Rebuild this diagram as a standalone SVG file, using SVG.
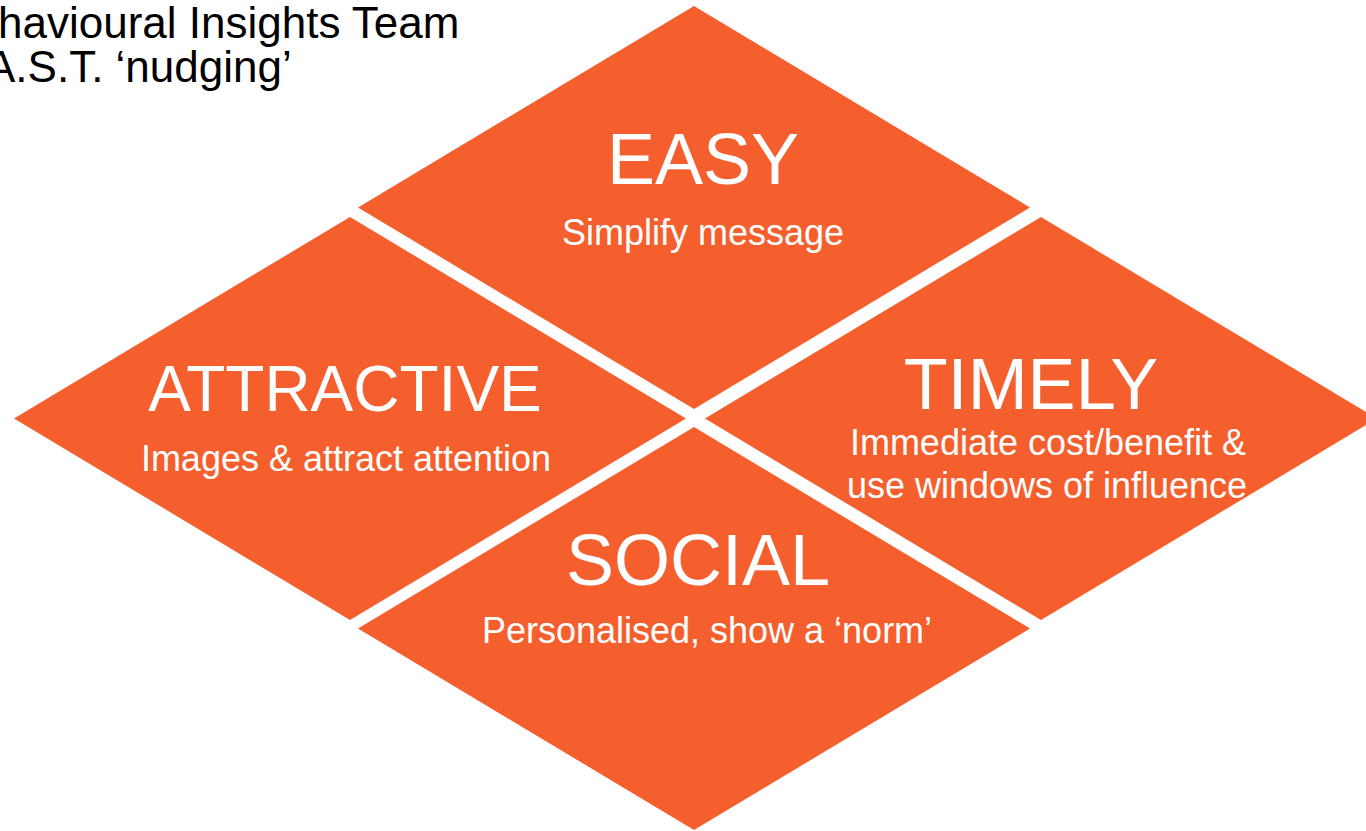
<svg xmlns="http://www.w3.org/2000/svg" width="1366" height="831" viewBox="0 0 1366 831">
<style>
.tile{fill:#F55F2E;}
.head{font-family:"Liberation Sans",Arial,sans-serif;fill:#FFFFFF;text-anchor:middle;font-size:72px;}
.sub{font-family:"Liberation Sans",Arial,sans-serif;fill:#FFFFFF;text-anchor:middle;font-size:36px;}
.title{font-family:"Liberation Sans",Arial,sans-serif;fill:#000000;font-size:44px;}
</style>
<rect x="0" y="0" width="1366" height="831" fill="#FFFFFF"/>
<g id="title">
<text class="title" x="-2" y="38">havioural Insights Team</text>
<text class="title" x="-14" y="82">A.S.T. ‘nudging’</text>
</g>
<g id="node-easy">
<polygon class="tile" points="694,6 1030,207.5 694,409 358,207.5"/>
<text class="head" x="703" y="184">EASY</text>
<text class="sub" x="703" y="245">Simplify message</text>
</g>
<g id="node-attractive">
<polygon class="tile" points="350,217 686,418.5 350,620 14,418.5"/>
<text class="head" x="345" y="411" style="font-size:64px">ATTRACTIVE</text>
<text class="sub" x="346" y="471">Images &amp; attract attention</text>
</g>
<g id="node-timely">
<polygon class="tile" points="1041,217 1377,418.5 1041,620 705,418.5"/>
<text class="head" x="1031" y="409">TIMELY</text>
<text class="sub" x="1048" y="455">Immediate cost/benefit &amp;</text>
<text class="sub" x="1047" y="498">use windows of influence</text>
</g>
<g id="node-social">
<polygon class="tile" points="694,427 1030,628.5 694,830 358,628.5"/>
<text class="head" x="698" y="585">SOCIAL</text>
<text class="sub" x="707" y="643">Personalised, show a ‘norm’</text>
</g>
</svg>
